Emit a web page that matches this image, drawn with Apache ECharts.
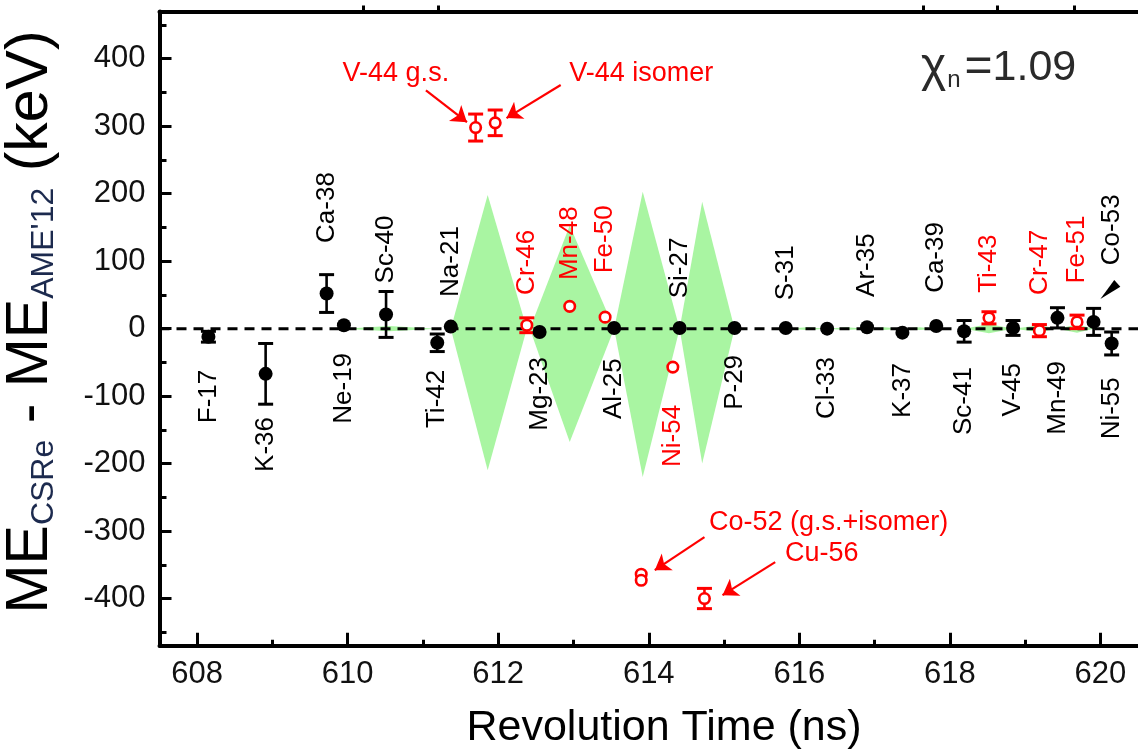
<!DOCTYPE html>
<html>
<head>
<meta charset="utf-8">
<script src="https://cdn.jsdelivr.net/npm/echarts@6/dist/echarts.min.js"></script>
<style>
  html, body { margin: 0; padding: 0; background: #fff; }
  #chart { width: 1138px; height: 754px; }
</style>
</head>
<body>
<div id="chart"></div>
<script>
// ---- Reference nuclides (black, filled) ----
const refNames = ['F-17', 'K-36', 'Ca-38', 'Ne-19', 'Sc-40', 'Ti-42', 'Na-21', 'Mg-23', 'Al-25', 'Si-27', 'P-29',
  'S-31', 'Cl-33', 'Ar-35', 'K-37', 'Ca-39', 'Sc-41', 'V-45', 'Mn-49', 'Co-53', 'Ni-55'];
const refTime = [608.15, 608.91, 609.72, 609.95, 610.51, 611.19, 611.37, 612.55, 613.54, 614.41, 615.14,
  615.82, 616.37, 616.90, 617.37, 617.82, 618.19, 618.84, 619.43, 619.91, 620.15];
const refDelta = [-12, -67, 52, 5, 21, -21, 3, -5, 1, 1, 1, 1, 0, 2, -6, 4, -4, 1, 16, 10, -22];
const refErr = [8, 45, 28, 0, 34, 13, 0, 0, 0, 0, 0, 0, 0, 0, 0, 0, 16, 11, 15, 20, 17];
const refLabelSide = ['down', 'down', 'up', 'down', 'up', 'down', 'up', 'down', 'down', 'up', 'down',
  'up', 'down', 'up', 'down', 'up', 'down', 'down', 'down', 'up', 'down'];
// keV level at which each rotated name begins
const refLabelAt = [-61, -131, 127, -36, 67, -61, 47, -42, -44, 45, -39, 42, -42, 47, -51, 53, -57, -51, -48, 94, -72];
// name written beside its point instead of over it
const refLabelTime = [null, null, null, null, null, null, null, null, null, null, null,
  null, null, null, null, null, null, null, null, 620.15, null];

// ---- Newly measured nuclides (red, open) ----
const newNames = ['V-44 g.s.', 'V-44 isomer', 'Cr-46', 'Mn-48', 'Fe-50', 'Ni-54', 'Co-52 g.s.', 'Co-52 isomer',
  'Cu-56', 'Ti-43', 'Cr-47', 'Fe-51'];
const newTime = [611.70, 611.96, 612.38, 612.95, 613.42, 614.32, 613.90, 613.90, 614.74, 618.52, 619.19, 619.69];
const newDelta = [298, 305, 5, 33, 17, -57, -364, -373, -400, 16, -3, 10];
const newErr = [20, 19, 11, 0, 0, 0, 0, 0, 15, 9, 9, 10];
const newLabelSide = [null, null, 'up', 'up', 'up', 'down', null, null, null, 'up', 'up', 'up'];
const newLabelAt = [null, null, 50, 72, 82, -113, null, null, null, 53, 50, 67];

// ---- Green uncertainty diamonds: start, peak, end time and upper / lower reach (keV) ----
const bandStart = [609.95, 611.37, 612.42, 613.54, 614.41, 615.82, 616.37, 616.90, 617.37, 618.19, 618.84, 619.43];
const bandPeak  = [610.55, 611.86, 612.95, 613.92, 614.71, 616.10, 616.63, 617.13, 617.60, 618.52, 619.19, 619.69];
const bandEnd   = [611.19, 612.38, 613.54, 614.41, 615.14, 616.37, 616.90, 617.37, 617.82, 618.84, 619.43, 619.91];
const bandUp    = [4, 198, 153, 203, 188, 2, 2, 2, 2, 7, 5, 6];
const bandDown  = [-4, -210, -168, -220, -200, -2, -2, -2, -2, -7, -5, -6];

// ---- Call-out texts and arrows (data coordinates) ----
const noteTexts = ['V-44 g.s.', 'V-44 isomer', 'Co-52 (g.s.+isomer)', 'Cu-56'];
const noteTime  = [610.64, 613.90, 616.39, 616.30];
const noteKeV   = [378, 378, -287, -334];
const arrowFrom = [[611.04, 353], [612.83, 361], [614.74, -309], [615.68, -346]];
const arrowTo   = [[611.585, 306], [612.11, 312], [614.08, -358], [614.98, -395]];
// pointer from the Co-53 name to its point
const pointerBase = [620.225, 67];
const pointerTip  = [620.00, 44];

// ---- Axes ----
const xMin = 607.5, xMax = 620.5;
const yMin = -470, yMax = 470;
const xTicks = [608, 610, 612, 614, 616, 618, 620];
const xMinorTicks = [609, 611, 613, 615, 617, 619];
const topTicks = [610.21, 611.21, 617.645, 618.636, 619.657];
const yTicks = [-400, -300, -200, -100, 0, 100, 200, 300, 400];
const yMinorTicks = [-450, -350, -250, -150, -50, 50, 150, 250, 350, 450];

const FONT = '"Liberation Sans", Arial, Helvetica, sans-serif';
const RED = '#ff0000';
const GREEN = '#a9f5a2';

const chart = echarts.init(document.getElementById('chart'), null, { renderer: 'canvas' });

function errorBarRenderer(color) {
  return function (params, api) {
    const t = api.value(0);
    const pLo = api.coord([t, api.value(1)]);
    const pHi = api.coord([t, api.value(2)]);
    const half = 7.5;
    return {
      type: 'group',
      children: [
        { type: 'line', shape: { x1: pLo[0], y1: pLo[1], x2: pHi[0], y2: pHi[1] },
          style: { stroke: color, lineWidth: 2.6 } },
        { type: 'line', shape: { x1: pHi[0] - half, y1: pHi[1], x2: pHi[0] + half, y2: pHi[1] },
          style: { stroke: color, lineWidth: 3 } },
        { type: 'line', shape: { x1: pLo[0] - half, y1: pLo[1], x2: pLo[0] + half, y2: pLo[1] },
          style: { stroke: color, lineWidth: 3 } }
      ]
    };
  };
}

function errorData(times, deltas, errs) {
  const out = [];
  times.forEach((t, i) => {
    if (errs[i] > 0) out.push([t, deltas[i] - errs[i], deltas[i] + errs[i]]);
  });
  return out;
}

// rotated name labels
const labelItems = [];
refNames.forEach((n, i) => {
  labelItems.push({ value: [refLabelTime[i] != null ? refLabelTime[i] : refTime[i], refLabelAt[i]],
    text: n, side: refLabelSide[i], color: '#000' });
});
newNames.forEach((n, i) => {
  if (newLabelSide[i]) {
    labelItems.push({ value: [newTime[i], newLabelAt[i]], text: n, side: newLabelSide[i], color: RED });
  }
});

const option = {
  animation: false,
  backgroundColor: '#fff',
  grid: { left: 159.5, top: 11.5, width: 984, height: 634.25, containLabel: false },
  xAxis: [
    {
      type: 'value', min: xMin, max: xMax, position: 'bottom',
      axisLine: { show: true, onZero: false, lineStyle: { color: '#000', width: 4 } },
      axisTick: { show: true, inside: true, length: 13, customValues: xTicks, lineStyle: { color: '#000', width: 3 } },
      axisLabel: { show: true, customValues: xTicks, fontSize: 31, fontFamily: FONT, color: '#111', margin: 13 },
      splitLine: { show: false }
    },
    {
      type: 'value', min: xMin, max: xMax, position: 'bottom',
      axisLine: { show: false, onZero: false },
      axisTick: { show: true, inside: true, length: 6, customValues: xMinorTicks, lineStyle: { color: '#000', width: 3 } },
      axisLabel: { show: false }, splitLine: { show: false }
    },
    {
      type: 'value', min: xMin, max: xMax, position: 'top',
      axisLine: { show: true, onZero: false, lineStyle: { color: '#000', width: 4 } },
      axisTick: { show: true, inside: false, length: 6, customValues: topTicks, lineStyle: { color: '#000', width: 3 } },
      axisLabel: { show: false }, splitLine: { show: false }
    }
  ],
  yAxis: [
    {
      type: 'value', min: yMin, max: yMax, position: 'left',
      axisLine: { show: true, onZero: false, lineStyle: { color: '#000', width: 4 } },
      axisTick: { show: true, inside: true, length: 12, customValues: yTicks, lineStyle: { color: '#000', width: 3 } },
      axisLabel: { show: true, customValues: yTicks, fontSize: 31, fontFamily: FONT, color: '#111', margin: 14 },
      splitLine: { show: false }
    },
    {
      type: 'value', min: yMin, max: yMax, position: 'left',
      axisLine: { show: false, onZero: false },
      axisTick: { show: true, inside: true, length: 7, customValues: yMinorTicks, lineStyle: { color: '#000', width: 3 } },
      axisLabel: { show: false }, splitLine: { show: false }
    }
  ],
  graphic: [
    {
      type: 'text', x: 31, y: 322, rotation: Math.PI / 2, silent: true,
      style: {
        text: '{m|ME}{s|CSRe}{m| - ME}{s|AME\'12}{m| (keV)}',
        align: 'center', verticalAlign: 'middle',
        rich: {
          m: { fontSize: 59, fontFamily: FONT, fill: '#000', verticalAlign: 'bottom' },
          s: { fontSize: 32, fontFamily: FONT, fill: '#1c2a4e', verticalAlign: 'bottom' }
        }
      }
    },
    {
      type: 'text', x: 664, y: 728, silent: true,
      style: { text: 'Revolution Time (ns)', fontSize: 43, fontFamily: FONT, fill: '#000',
        align: 'center', verticalAlign: 'middle' }
    },
    {
      type: 'text', x: 921, y: 68, silent: true,
      style: {
        text: '{c|χ}{n|n}{e|=}{v|1.09}',
        align: 'left', verticalAlign: 'middle',
        rich: {
          c: { fontSize: 48, fontFamily: FONT, fill: '#2a2a2a', verticalAlign: 'middle' },
          n: { fontSize: 24, fontFamily: FONT, fill: '#2a2a2a', verticalAlign: 'bottom', padding: [0, 4, 0, 1] },
          e: { fontSize: 48, fontFamily: FONT, fill: '#2a2a2a', verticalAlign: 'middle' },
          v: { fontSize: 43, fontFamily: FONT, fill: '#2a2a2a', verticalAlign: 'middle' }
        }
      }
    }
  ],
  series: [
    {
      // green uncertainty diamonds
      name: 'band', type: 'custom', xAxisIndex: 0, yAxisIndex: 0, z: 1, silent: true,
      data: bandStart.map((s, i) => [s, bandPeak[i], bandEnd[i], bandUp[i], bandDown[i]]),
      encode: { x: [0, 1, 2], y: [3, 4] },
      renderItem: function (params, api) {
        const a = api.coord([api.value(0), 0]);
        const top = api.coord([api.value(1), api.value(3)]);
        const b = api.coord([api.value(2), 0]);
        const bot = api.coord([api.value(1), api.value(4)]);
        return {
          type: 'polygon',
          shape: { points: [a, top, b, bot] },
          style: { fill: GREEN, stroke: null }
        };
      }
    },
    {
      // zero reference line
      name: 'zero', type: 'line', xAxisIndex: 0, yAxisIndex: 0, z: 2, silent: true,
      data: [[xMin, 0], [xMax, 0]], symbol: 'none',
      lineStyle: { color: '#000', width: 3, type: [10, 7] }
    },
    {
      name: 'refErr', type: 'custom', xAxisIndex: 0, yAxisIndex: 0, z: 3, silent: true,
      data: errorData(refTime, refDelta, refErr),
      encode: { x: 0, y: [1, 2] },
      renderItem: errorBarRenderer('#000')
    },
    {
      name: 'reference', type: 'scatter', xAxisIndex: 0, yAxisIndex: 0, z: 4, silent: true,
      data: refTime.map((t, i) => [t, refDelta[i]]),
      symbol: 'circle', symbolSize: 14,
      itemStyle: { color: '#000', opacity: 1 }
    },
    {
      name: 'newErr', type: 'custom', xAxisIndex: 0, yAxisIndex: 0, z: 3, silent: true,
      data: errorData(newTime, newDelta, newErr),
      encode: { x: 0, y: [1, 2] },
      renderItem: errorBarRenderer(RED)
    },
    {
      name: 'new', type: 'scatter', xAxisIndex: 0, yAxisIndex: 0, z: 5, silent: true,
      data: newTime.map((t, i) => [t, newDelta[i]]),
      symbol: 'circle', symbolSize: 10.5,
      itemStyle: { color: '#fff', borderColor: RED, borderWidth: 2.6, opacity: 1 }
    },
    {
      // rotated nuclide names
      name: 'names', type: 'custom', xAxisIndex: 0, yAxisIndex: 0, z: 6, silent: true,
      data: labelItems.map(d => d.value),
      encode: { x: 0, y: 1 },
      renderItem: function (params, api) {
        const item = labelItems[params.dataIndex];
        const p = api.coord([api.value(0), api.value(1)]);
        return {
          type: 'text', x: p[0], y: p[1], rotation: Math.PI / 2,
          style: {
            text: item.text, fill: item.color, fontSize: 26, fontFamily: FONT,
            align: item.side === 'up' ? 'left' : 'right', verticalAlign: 'middle'
          }
        };
      }
    },
    {
      // call-out texts
      name: 'notes', type: 'custom', xAxisIndex: 0, yAxisIndex: 0, z: 6, silent: true,
      data: noteTime.map((t, i) => [t, noteKeV[i]]),
      encode: { x: 0, y: 1 },
      renderItem: function (params, api) {
        const p = api.coord([api.value(0), api.value(1)]);
        return {
          type: 'text', x: p[0], y: p[1],
          style: { text: noteTexts[params.dataIndex], fill: RED, fontSize: 27, fontFamily: FONT,
            align: 'center', verticalAlign: 'middle' }
        };
      }
    },
    {
      name: 'arrows', type: 'lines', coordinateSystem: 'cartesian2d', xAxisIndex: 0, yAxisIndex: 0,
      z: 6, silent: true,
      symbol: ['none', 'arrow'], symbolSize: [0, 15],
      lineStyle: { color: RED, width: 2.2, opacity: 1, curveness: 0 },
      data: arrowFrom.map((f, i) => ({ coords: [f, arrowTo[i]] }))
    },
    {
      // wedge pointer for the Co-53 name
      name: 'pointer', type: 'custom', xAxisIndex: 0, yAxisIndex: 0, z: 6, silent: true,
      data: [[pointerBase[0], pointerBase[1], pointerTip[0], pointerTip[1]]],
      encode: { x: [0, 2], y: [1, 3] },
      renderItem: function (params, api) {
        const b = api.coord([api.value(0), api.value(1)]);
        const t = api.coord([api.value(2), api.value(3)]);
        const dx = t[0] - b[0], dy = t[1] - b[1];
        const len = Math.sqrt(dx * dx + dy * dy) || 1;
        const nx = -dy / len * 4.5, ny = dx / len * 4.5;
        return {
          type: 'polygon',
          shape: { points: [[b[0] + nx, b[1] + ny], t, [b[0] - nx, b[1] - ny]] },
          style: { fill: '#000' }
        };
      }
    }
  ]
};

chart.setOption(option);
</script>
</body>
</html>
